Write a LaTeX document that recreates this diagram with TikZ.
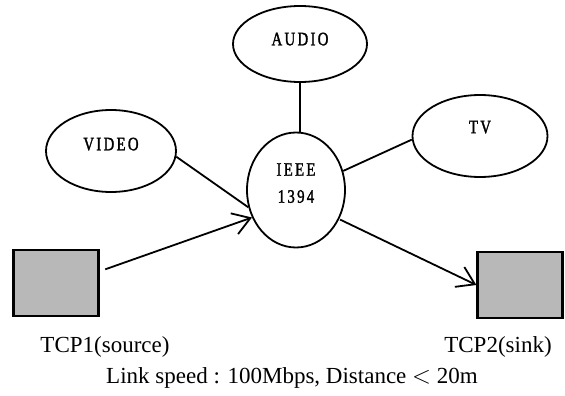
\documentclass[tikz,border=0pt]{standalone}
\usepackage{fontspec}
\setmainfont{Liberation Serif}
\newfontfamily\capfont[LetterSpace=12,FakeStretch=0.78,FakeBold=1.5]{Liberation Serif}
\usetikzlibrary{shapes.geometric,arrows.meta}

\begin{document}
\begin{tikzpicture}[x=1pt, y=-1pt, line width=1.8pt, >={Straight Barb[length=17pt,width=22pt]},
    dev/.style={draw, ellipse, inner sep=0pt, text depth=14pt, font=\capfont\fontsize{19}{27}\selectfont},
    term/.style={draw, rectangle, line width=2.2pt, fill=black!28, minimum width=85pt, minimum height=66pt, inner sep=0pt},
    caption/.style={font=\fontsize{23}{26}\selectfont, inner sep=0pt}]
    \useasboundingbox (0,0) rectangle (565,396);
    % Bus and devices
    \node[dev, minimum width=98pt, minimum height=115pt, align=center] (ieee) at (296,190) {IEEE\\1394};
    \node[dev, minimum width=134pt, minimum height=76pt, text depth=10pt] (audio) at (300,44) {AUDIO};
    \node[dev, minimum width=130pt, minimum height=82pt] (video) at (111,151) {VIDEO};
    \node[dev, minimum width=135pt, minimum height=82pt, text depth=18pt] (tv) at (480,136) {TV};
    % Terminals
    \node[term] (src) at (56,283) {};
    \node[term] (dst) at (520,285) {};
    \node[caption] (srclbl) at (105,347) {TCP1(source)};
    \node[caption] (dstlbl) at (498,347) {TCP2(sink)};
    \node[caption] (note) at (292,378) {Link speed : 100Mbps, Distance $<$ 20m};
    % Links
    \draw (audio.south) -- (audio.south |- ieee.north);
    \draw (video.355) -- (ieee.200);
    \draw (tv.183) -- (ieee.22);
    \draw[->, shorten <=6pt] (src.15) -- (ieee.212);
    \draw[->, shorten <=1pt] (ieee.326) -- (dst.west);
\end{tikzpicture}
\end{document}
